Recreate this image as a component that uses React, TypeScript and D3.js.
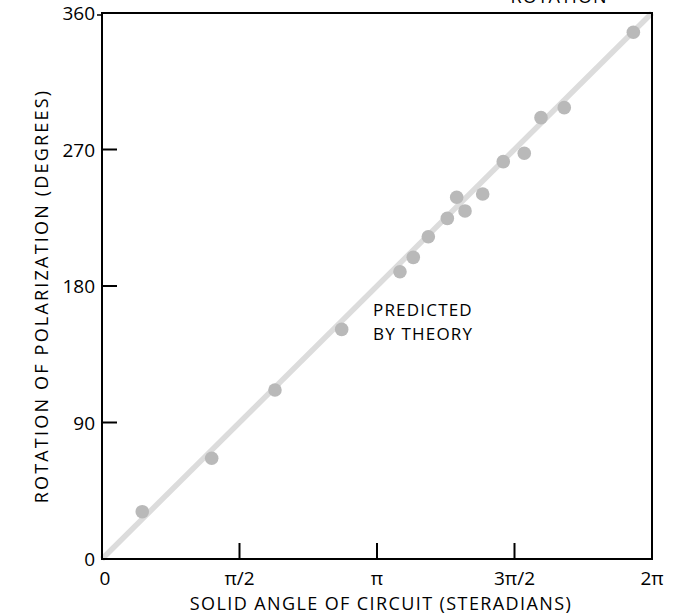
import React from "react";
import * as d3 from "d3";

const solidAngle = [0.46, 1.253, 1.976, 2.738, 3.404, 3.556, 3.728, 3.945, 4.052, 4.147, 4.349, 4.584, 4.824, 5.015, 5.281, 6.07];
const rotation = [31.2, 66.4, 111.4, 151.4, 189.4, 198.9, 212.5, 224.6, 238.5, 229.5, 240.7, 262.0, 267.5, 291.0, 297.6, 347.3];
const xTickValues = [0, Math.PI / 2, Math.PI, (3 * Math.PI) / 2, 2 * Math.PI];
const xTickLabels = ["0", "π/2", "π", "3π/2", "2π"];
const yTickValues = [0, 90, 180, 270, 360];
const theoryX = [0, 2 * Math.PI];
const annotationLines = ["PREDICTED", "BY THEORY"];

const W = 673;
const H = 616;
const FONT = "'Open Sans', 'Noto Sans', sans-serif";

export default function App() {
  const x = d3.scaleLinear().domain([0, 2 * Math.PI]).range([102, 652]);
  const y = d3.scaleLinear().domain([0, 360]).range([559, 13]);
  const line = d3
    .line<number>()
    .x((d) => x(d))
    .y((d) => y((d * 180) / Math.PI));

  return (
    <div style={{ position: "absolute", left: 0, top: 0, width: W, height: H, background: "#fff" }}>
      <svg width={W} height={H} style={{ display: "block" }} fontFamily={FONT}>
        <rect x={0} y={0} width={W} height={H} fill="#fff" />
        {/* partially visible heading */}
        <text x={559} y={3} textAnchor="middle" fontSize={18} letterSpacing={1} fill="#000">
          ROTATION
        </text>
        {/* theory line */}
        <path d={line(theoryX) || ""} stroke="#dcdcdc" strokeWidth={5.5} fill="none" />
        {/* points */}
        {solidAngle.map((s, i) => (
          <circle key={i} cx={x(s)} cy={y(rotation[i])} r={6.8} fill="#b9b9b9" />
        ))}
        {/* frame */}
        <rect
          x={x(0)}
          y={y(360)}
          width={x(2 * Math.PI) - x(0)}
          height={y(0) - y(360)}
          fill="none"
          stroke="#000"
          strokeWidth={2}
        />
        {/* x ticks */}
        {xTickValues.map((v, i) => (
          <g key={"xt" + i}>
            {i > 0 && i < xTickValues.length - 1 && (
              <line x1={x(v)} x2={x(v)} y1={y(0)} y2={y(0) - 16} stroke="#000" strokeWidth={2} />
            )}
            <text x={x(v) + (i === 0 ? 3 : 0)} y={585} textAnchor="middle" fontSize={19} fill="#000">
              {xTickLabels[i]}
            </text>
          </g>
        ))}
        {/* y ticks */}
        {yTickValues.map((v, i) => (
          <g key={"yt" + i}>
            {i > 0 && i < yTickValues.length - 1 && (
              <line x1={x(0)} x2={x(0) + 15} y1={y(v)} y2={y(v)} stroke="#000" strokeWidth={2} />
            )}
            {i === yTickValues.length - 1 && (
              <line x1={x(0) - 5} x2={x(0)} y1={y(v) + 2} y2={y(v) + 2} stroke="#000" strokeWidth={1.5} />
            )}
            <text x={95} y={y(v) + 7} textAnchor="end" fontSize={19} fill="#000">
              {String(v)}
            </text>
          </g>
        ))}
        {/* annotation */}
        {annotationLines.map((t, i) => (
          <text key={i} x={373} y={316 + i * 23.5} fontSize={17} letterSpacing={1.2} fill="#000">
            {t}
          </text>
        ))}
        {/* axis titles */}
        <text x={381} y={610} textAnchor="middle" fontSize={18} letterSpacing={1.4} fill="#000">
          SOLID ANGLE OF CIRCUIT (STERADIANS)
        </text>
        <text
          transform={`translate(48, 296) rotate(-90)`}
          textAnchor="middle"
          fontSize={18}
          letterSpacing={2.2}
          fill="#000"
        >
          ROTATION OF POLARIZATION (DEGREES)
        </text>
      </svg>
    </div>
  );
}
